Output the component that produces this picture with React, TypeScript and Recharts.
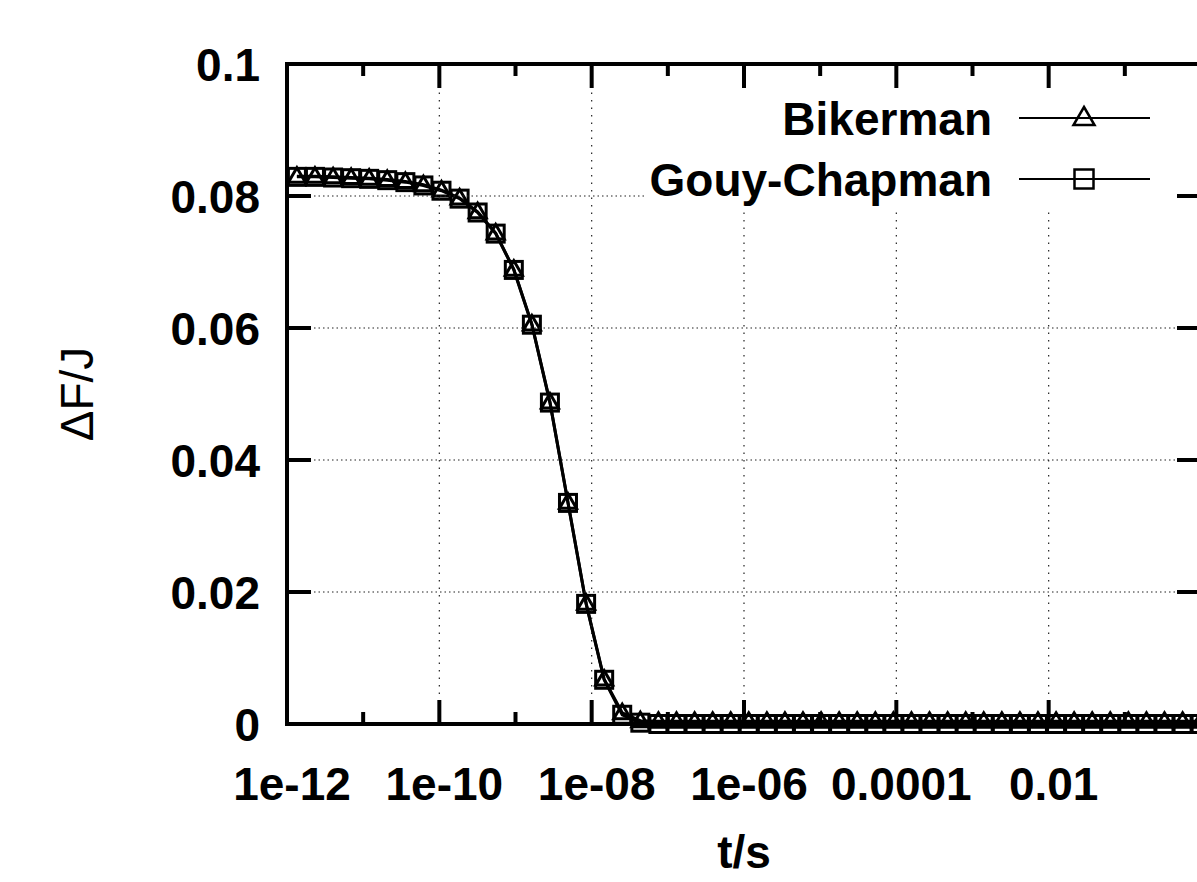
import { Legend, Line, LineChart, ReferenceLine, XAxis, YAxis } from "recharts";

// time points (s)
const tValues = [
  1.349e-12, 2.328e-12, 4.027e-12, 6.95e-12, 1.199e-11, 2.07e-11, 3.581e-11,
  6.18e-11, 1.067e-10, 1.845e-10, 3.184e-10, 5.495e-10, 9.506e-10, 1.641e-9,
  2.831e-9, 4.887e-9, 8.453e-9, 1.459e-8, 2.518e-8, 4.355e-8, 7.516e-8,
  1.297e-7, 2.244e-7, 3.873e-7, 6.683e-7, 1.153e-6, 1.995e-6, 3.443e-6,
  5.943e-6, 1.028e-5, 1.774e-5, 3.062e-5, 5.297e-5, 9.141e-5, 1.578e-4,
  2.723e-4, 4.71e-4, 8.128e-4, 1.403e-3, 2.427e-3, 4.188e-3, 7.228e-3,
  1.25e-2, 2.158e-2, 3.724e-2, 6.427e-2, 0.1112, 0.1919, 0.3311, 0.5728,
  0.9886,
];

const bikerman = [
  0.083, 0.083, 0.0829, 0.0828, 0.0827, 0.0825, 0.0822, 0.0817, 0.0809,
  0.0797, 0.0776, 0.0744, 0.0689, 0.0606, 0.0488, 0.0336, 0.0183, 0.0068,
  0.0017, 0.0005, 0.0004, 0.0004, 0.0004, 0.0004, 0.0004, 0.0004, 0.0004,
  0.0004, 0.0004, 0.0004, 0.0004, 0.0004, 0.0004, 0.0004, 0.0004, 0.0004,
  0.0004, 0.0004, 0.0004, 0.0004, 0.0004, 0.0004, 0.0004, 0.0004, 0.0004,
  0.0004, 0.0004, 0.0004, 0.0004, 0.0004, 0.0004,
];

const gouyChapman = [
  0.0829, 0.0829, 0.0828, 0.0827, 0.0826, 0.0824, 0.0821, 0.0816, 0.0808,
  0.0796, 0.0775, 0.0743, 0.0688, 0.0605, 0.0487, 0.0335, 0.0182, 0.0067,
  0.0014, 0.0002, 0, 0, 0, 0, 0, 0, 0, 0, 0, 0, 0, 0, 0, 0, 0, 0, 0, 0, 0, 0,
  0, 0, 0, 0, 0, 0, 0, 0, 0, 0, 0,
];

const seriesNames = ["Bikerman", "Gouy-Chapman"];

const xMajorTicks = [1e-12, 1e-10, 1e-8, 1e-6, 1e-4, 1e-2, 1];
const xMinorTicks = [1e-11, 1e-9, 1e-7, 1e-5, 1e-3, 1e-1];
// the last label ("1") falls past the right edge of the picture
const xTickLabels = ["1e-12", "1e-10", "1e-08", "1e-06", "0.0001", "0.01", ""];
const yTicks = [0, 0.02, 0.04, 0.06, 0.08, 0.1];
const yTickLabels = ["0", "0.02", "0.04", "0.06", "0.08", "0.1"];

const data = tValues.map((t, i) => ({
  t,
  bik: bikerman[i],
  gc: gouyChapman[i],
}));

const W = 1260;
const H = 920;
const PLOT_L = 287;
const PLOT_T = 64;
const PLOT_R = 1201;
const PLOT_B = 724;
const FONT = "'Liberation Sans', Arial, Helvetica, sans-serif";

function XTick(props: any) {
  const { x, y, payload } = props;
  const v = payload.value;
  const idx = xMajorTicks.findIndex(
    (m) => Math.abs(Math.log10(m) - Math.log10(v)) < 1e-6,
  );
  const major = idx >= 0;
  const len = major ? 24 : 12;
  return (
    <g>
      {major && idx > 0 && idx < xMajorTicks.length - 1 && (
        <line x1={x} x2={x} y1={y} y2={PLOT_T} stroke="#222" strokeWidth={1.2} strokeDasharray="1.5 6" />
      )}
      <line x1={x} x2={x} y1={y} y2={y - len} stroke="#000" strokeWidth={4} />
      <line x1={x} x2={x} y1={PLOT_T} y2={PLOT_T + len} stroke="#000" strokeWidth={4} />
      {major && xTickLabels[idx] && (
        <text x={x + 5} y={y + 76} textAnchor="middle" fontFamily={FONT} fontWeight="bold" fontSize={46} fill="#000">
          {xTickLabels[idx]}
        </text>
      )}
    </g>
  );
}

function YTick(props: any) {
  const { x, y, index } = props;
  return (
    <g>
      {index > 0 && index < yTicks.length - 1 && (
        <line x1={x} x2={PLOT_R} y1={y} y2={y} stroke="#222" strokeWidth={1.2} strokeDasharray="1.5 3" />
      )}
      <line x1={x} x2={x + 24} y1={y} y2={y} stroke="#000" strokeWidth={4} />
      <line x1={PLOT_R} x2={PLOT_R - 24} y1={y} y2={y} stroke="#000" strokeWidth={4} />
      <text x={260} y={y + 17} textAnchor="end" fontFamily={FONT} fontWeight="bold" fontSize={46} fill="#000">
        {yTickLabels[index]}
      </text>
    </g>
  );
}

function triangle(cx: number, cy: number, up: number, down: number, half: number) {
  return `M${cx},${cy - up} L${cx + half},${cy + down} L${cx - half},${cy + down} Z`;
}

function renderTriangle(p: any) {
  if (p.cx == null || p.cy == null) return <g key={`b${p.index}`} />;
  return (
    <path key={`b${p.index}`} d={triangle(p.cx, p.cy, 8.5, 6, 8.5)} fill="none" stroke="#000" strokeWidth={3} />
  );
}

function renderSquare(p: any) {
  if (p.cx == null || p.cy == null) return <g key={`g${p.index}`} />;
  return (
    <rect key={`g${p.index}`} x={p.cx - 8.5} y={p.cy - 8.5} width={17} height={17} fill="none" stroke="#000" strokeWidth={3} />
  );
}

function KeyBox() {
  const rows = [118 - 90, 179 - 90];
  const lx1 = 1019 - 645;
  const lx2 = 1150 - 645;
  const mx = 1084 - 645;
  return (
    <svg width={531} height={118} style={{ display: "block" }}>
      {seriesNames.map((name, i) => (
        <g key={name}>
          <text x={992 - 645} y={rows[i] + 17} textAnchor="end" fontFamily={FONT} fontWeight="bold" fontSize={46} fill="#000">
            {name}
          </text>
          <line x1={lx1} x2={lx2} y1={rows[i]} y2={rows[i]} stroke="#000" strokeWidth={2} />
          {i === 0 ? (
            <path d={triangle(mx, rows[i], 11, 7, 10.5)} fill="none" stroke="#000" strokeWidth={2.5} />
          ) : (
            <rect x={mx - 9.5} y={rows[i] - 9.5} width={19} height={19} fill="none" stroke="#000" strokeWidth={2.5} />
          )}
        </g>
      ))}
    </svg>
  );
}

export default function App() {
  return (
    <div
      style={{
        position: "fixed",
        left: 0,
        top: 0,
        width: 1197,
        height: 882,
        overflow: "hidden",
        background: "#fff",
      }}
    >
      <LineChart
        width={W}
        height={H}
        data={data}
        margin={{ top: PLOT_T, left: PLOT_L - 60, right: W - PLOT_R, bottom: H - PLOT_B - 30 }}
      >
        <XAxis
          dataKey="t"
          type="number"
          scale="log"
          domain={[1e-12, 1]}
          ticks={[...xMajorTicks, ...xMinorTicks]}
          interval={0}
          height={30}
          tick={<XTick />}
          tickLine={false}
          tickSize={0}
          tickMargin={0}
          axisLine={{ stroke: "#000", strokeWidth: 4, strokeLinecap: "square" }}
          label={() => (
            <text x={(PLOT_L + PLOT_R) / 2} y={868} textAnchor="middle" fontFamily={FONT} fontWeight="bold" fontSize={46} fill="#000">
              t/s
            </text>
          )}
        />
        <YAxis
          type="number"
          domain={[0, 0.1]}
          ticks={yTicks}
          interval={0}
          width={60}
          tick={<YTick />}
          tickLine={false}
          tickSize={0}
          tickMargin={0}
          axisLine={{ stroke: "#000", strokeWidth: 4, strokeLinecap: "square" }}
          label={() => (
            <text
              transform={`translate(93, ${(PLOT_T + PLOT_B) / 2}) rotate(-90)`}
              textAnchor="middle"
              fontFamily={FONT}
              fontSize={46}
              fill="#000"
            >
              ΔF/J
            </text>
          )}
        />
        <ReferenceLine y={0.1} stroke="#000" strokeWidth={4} />
        <ReferenceLine x={1} stroke="#000" strokeWidth={4} />
        <Line
          type="linear"
          dataKey="bik"
          name={seriesNames[0]}
          stroke="#000"
          strokeWidth={3}
          dot={renderTriangle}
          isAnimationActive={false}
        />
        <Line
          type="linear"
          dataKey="gc"
          name={seriesNames[1]}
          stroke="#000"
          strokeWidth={3}
          dot={renderSquare}
          isAnimationActive={false}
        />
        <Legend
          layout="horizontal"
          verticalAlign="middle"
          align="center"
          content={() => <KeyBox />}
          wrapperStyle={{
            left: 645,
            top: 90,
            width: 531,
            height: 118,
            background: "#fff",
          }}
        />
      </LineChart>
    </div>
  );
}
